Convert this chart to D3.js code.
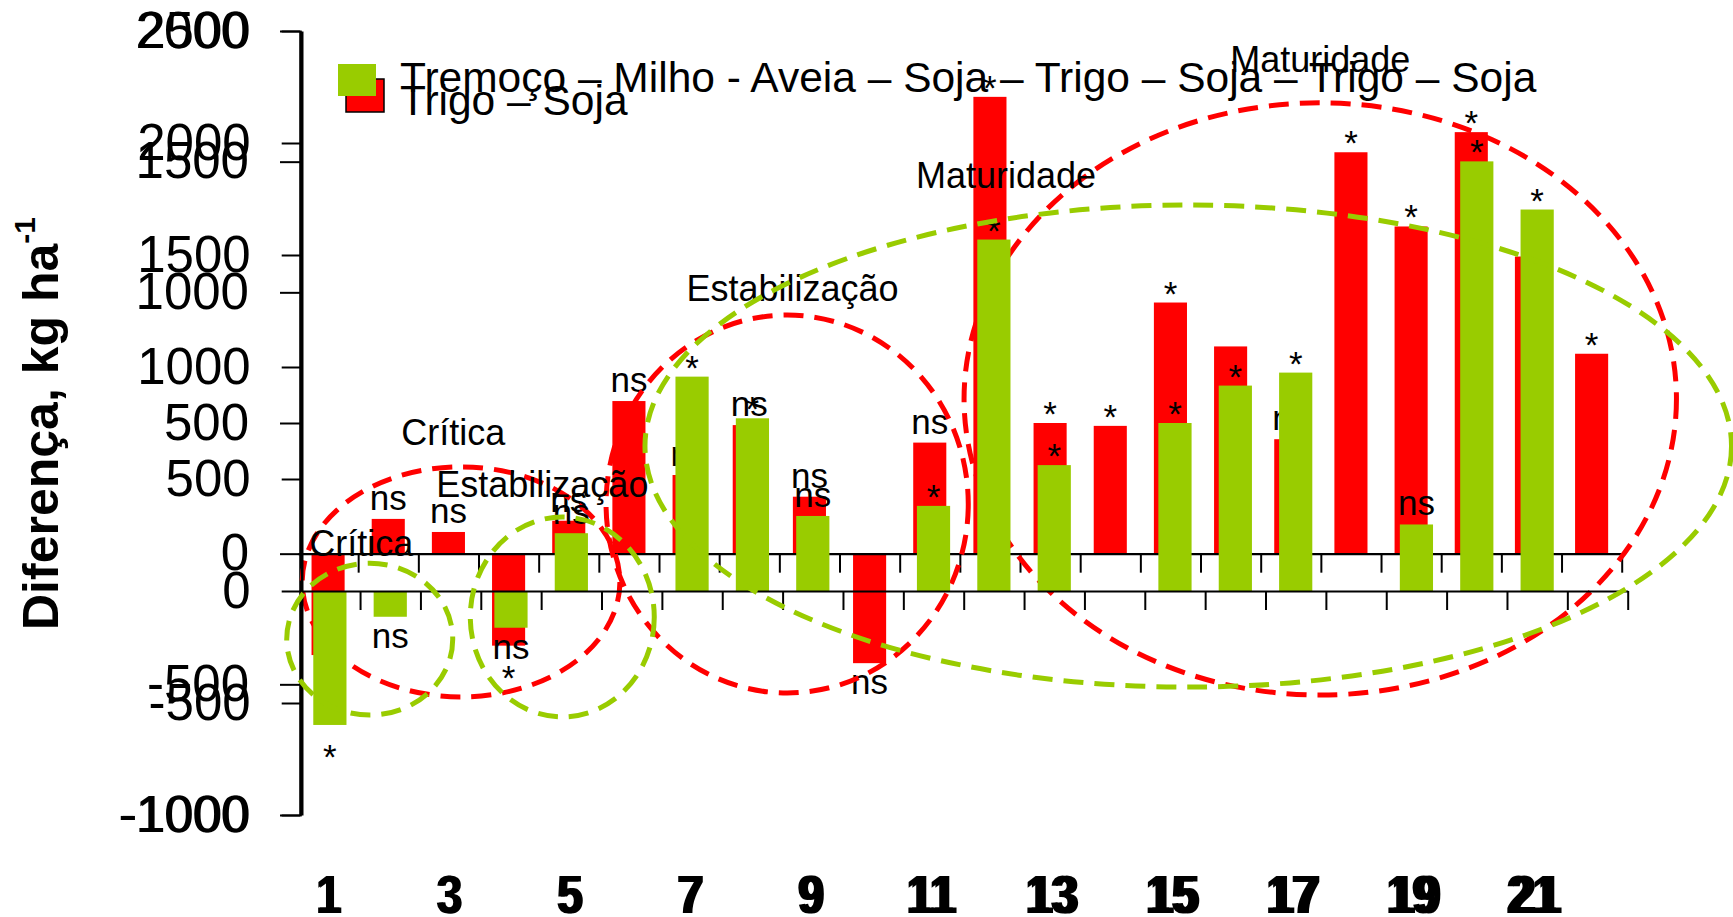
<!DOCTYPE html>
<html>
<head>
<meta charset="utf-8">
<title>Diferença de rendimento</title>
<script src="https://cdn.jsdelivr.net/npm/d3@7/dist/d3.min.js"></script>
<style>
  body { margin: 0; background: #fff; }
  svg { display: block; font-family: "Liberation Sans", Arial, sans-serif; }
</style>
</head>
<body>
<svg width="1733" height="917" id="mainsvg"></svg>
<script>
// ---- data ----
const categories = [1, 2, 3, 4, 5, 6, 7, 8, 9, 10, 11, 12, 13, 14, 15, 16, 17, 18, 19, 20, 21, 22];
const xLabels = [1, 3, 5, 7, 9, 11, 13, 15, 17, 19, 21];

// Trigo – Soja (red, left axis -1000..2000)
const trigoSoja = [-388, 133, 83, -352, 126, 584, 301, 492, 218, -419, 425, 1748, 500, 489, 961, 793, 438, 1536, 1252, 1613, 1137, 765];
const trigoSojaSig = ['*', 'ns', 'ns', '*', 'ns', 'ns', 'ns', 'ns', 'ns', 'ns', 'ns', '*', '*', '*', '*', '', 'ns', '*', '*', '*', '*', '*'];
const trigoTicks = [-1000, -500, 0, 500, 1000, 1500, 2000];

// Tremoço – Milho - Aveia – Soja – Trigo – Soja – Trigo – Soja (green, axis -1000..2500)
const tremoco = [-598, -115, null, -164, 258, null, 957, 771, 335, null, 380, 1569, 562, null, 750, 917, 975, null, 297, 1918, 1703, null];
const tremocoSig = ['*', 'ns', '', 'ns', 'ns', '', '*', '*', 'ns', '', '*', '*', '*', '', '*', '*', '*', '', 'ns', '*', '*', ''];
const tremocoTicks = [-1000, -500, 0, 500, 1000, 1500, 2000, 2500];

// phase groups (dashed ellipses), in category / value units
const trigoPhases = [
  { name: 'Crítica', cat: 3.21, value: -108, rCat: 2.64, rValue: 440, labelCat: 3.08, labelValue: 416 },
  { name: 'Estabilização', cat: 8.63, value: 190, rCat: 3.01, rValue: 723, labelCat: 8.72, labelValue: 967 },
  { name: 'Maturidade', cat: 17.49, value: 592, rCat: 5.92, rValue: 1133, labelCat: 17.49, labelValue: 1843 }
];
const tremocoPhases = [
  { name: 'Crítica', cat: 1.66, value: -215, rCat: 1.375, rValue: 339, labelCat: 1.52, labelValue: 156 },
  { name: 'Estabilização', cat: 4.85, value: -116, rCat: 1.524, rValue: 446, labelCat: 4.52, labelValue: 420 },
  { name: 'Maturidade', cat: 15.22, value: 647, rCat: 9.0, rValue: 1076, labelCat: 12.2, labelValue: 1799 }
];

const legendNames = ['Tremoço – Milho - Aveia – Soja – Trigo – Soja – Trigo – Soja', 'Trigo – Soja'];

// ---- drawing ----
const svg = d3.select('#mainsvg');
const RED = '#ff0000';
const GREEN = '#99cc00';

function drawLayer(cfg) {
  const g = svg.append('g');
  const yScale = d3.scaleLinear().domain(cfg.yDomain).range([815, 31]);
  const xBand = d3.scaleBand().domain(categories).range(cfg.xRange)
    .paddingInner(0.45).paddingOuter(0.225);
  const xLin = d3.scaleLinear().domain([0.5, 22.5]).range(cfg.xRange);
  const bw = xBand.bandwidth();
  const rows = categories.map((c, i) => ({ c, v: cfg.values[i], sig: cfg.sig[i] }))
    .filter(d => d.v !== null);

  // bars
  g.selectAll('.bar').data(rows).join('rect')
    .attr('class', 'bar')
    .attr('x', d => xBand(d.c))
    .attr('y', d => yScale(Math.max(0, d.v)))
    .attr('width', bw)
    .attr('height', d => Math.abs(yScale(d.v) - yScale(0)))
    .attr('fill', cfg.color);

  // significance labels
  g.selectAll('.sig').data(rows.filter(d => d.sig)).join('text')
    .attr('class', 'sig')
    .attr('x', d => xBand(d.c) + bw / 2)
    .attr('y', d => {
      const y = yScale(d.v);
      if (d.v >= 0) return y + (d.sig === '*' ? 3 : -9);
      return y + (d.sig === '*' ? 44 : 31);
    })
    .attr('text-anchor', 'middle')
    .attr('font-size', 35)
    .text(d => d.sig);

  // y axis
  const yAxis = d3.axisLeft(yScale).tickValues(cfg.ticks)
    .tickSize(20).tickSizeOuter(0).tickPadding(31)
    .tickFormat(d => String(d));
  const yg = g.append('g').attr('transform', `translate(${cfg.xRange[0] + 2},0)`).call(yAxis);
  yg.selectAll('text').attr('font-size', 51).attr('fill', '#000')
    .attr('font-family', '"Liberation Sans", Arial, sans-serif');
  yg.select('.domain').attr('stroke-width', 2.6);
  yg.selectAll('.tick line').attr('stroke-width', 2);

  // x axis on zero line, ticks between categories
  const bounds = categories.map(c => c + 0.5);
  const xAxis = d3.axisBottom(xLin).tickValues(bounds)
    .tickSize(19).tickSizeOuter(0).tickFormat('');
  const xg = g.append('g').attr('transform', `translate(0,${yScale(0)})`).call(xAxis);
  xg.select('.domain').attr('stroke-width', 2.2);
  xg.selectAll('.tick line').attr('stroke-width', 2);

  // category numbers (tall, narrow bold digits)
  g.selectAll('.xlab').data(xLabels).join('text')
    .attr('class', 'xlab')
    .attr('transform', d => `translate(${xLin(d)},913) scale(1,1.15)`)
    .attr('text-anchor', 'middle')
    .attr('font-size', 46)
    .attr('font-weight', 'bold')
    .text(d => d);

  // phase ellipses
  g.selectAll('.phase').data(cfg.phases).join('ellipse')
    .attr('class', 'phase')
    .attr('cx', d => xLin(d.cat))
    .attr('cy', d => yScale(d.value))
    .attr('rx', d => xLin(d.cat + d.rCat) - xLin(d.cat))
    .attr('ry', d => yScale(d.value - d.rValue) - yScale(d.value))
    .attr('fill', 'none')
    .attr('stroke', cfg.color)
    .attr('stroke-width', 5)
    .attr('stroke-dasharray', '20,11');

  g.selectAll('.phaseName').data(cfg.phases).join('text')
    .attr('class', 'phaseName')
    .attr('x', d => xLin(d.labelCat))
    .attr('y', d => yScale(d.labelValue))
    .attr('text-anchor', 'middle')
    .attr('font-size', 36)
    .text(d => d.name);
}

drawLayer({
  values: trigoSoja, sig: trigoSojaSig, ticks: trigoTicks,
  yDomain: [-1000, 2000], xRange: [298, 1621.7], color: RED, phases: trigoPhases
});
drawLayer({
  values: tremoco, sig: tremocoSig, ticks: tremocoTicks,
  yDomain: [-1000, 2500], xRange: [299.7, 1627.7], color: GREEN, phases: tremocoPhases
});

// legend (red entry first, green drawn over it)
const leg = svg.append('g');
leg.append('rect').attr('x', 346).attr('y', 79).attr('width', 38).attr('height', 33)
  .attr('fill', RED).attr('stroke', '#000').attr('stroke-width', 1.5);
leg.append('text').attr('x', 400).attr('y', 115).attr('font-size', 42.5).text(legendNames[1]);
leg.append('rect').attr('x', 338).attr('y', 64).attr('width', 38).attr('height', 32)
  .attr('fill', GREEN);
leg.append('text').attr('x', 400).attr('y', 92).attr('font-size', 42.5).text(legendNames[0]);

// y axis title
const title = svg.append('text')
  .attr('transform', 'translate(58,630) rotate(-90)')
  .attr('font-size', 50)
  .attr('font-weight', 'bold');
title.append('tspan').text('Diferença, kg ha');
title.append('tspan').attr('font-size', 30).attr('dy', -23).text('-1');
</script>
</body>
</html>
